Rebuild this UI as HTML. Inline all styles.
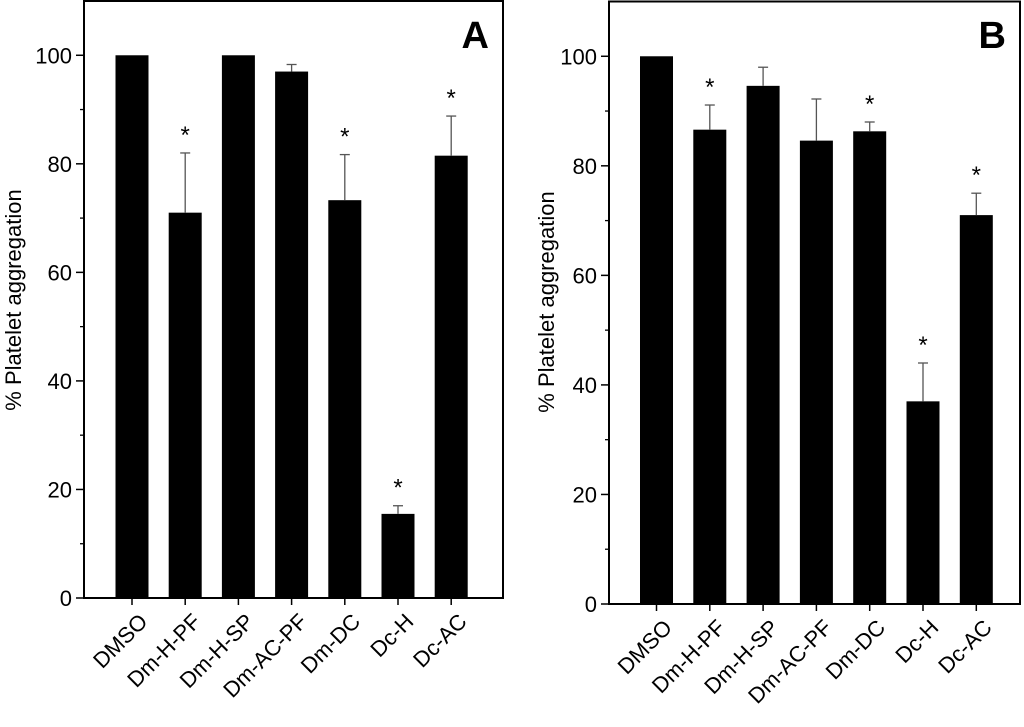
<!DOCTYPE html>
<html><head><meta charset="utf-8"><style>
html,body{margin:0;padding:0;background:#fff;}
svg{display:block;font-family:"Liberation Sans",Arial,sans-serif;}
</style></head><body>
<svg id="chart" width="1024" height="727" viewBox="0 0 1024 727"></svg>
<script>
const categories = ["DMSO","Dm-H-PF","Dm-H-SP","Dm-AC-PF","Dm-DC","Dc-H","Dc-AC"];
const valuesA = [100, 71, 100, 97, 73.3, 15.5, 81.5];
const errorsA = [0, 11, 0, 1.3, 8.4, 1.5, 7.3];
const starsA = [false, true, false, false, true, true, true];
const valuesB = [100, 86.6, 94.6, 84.6, 86.3, 37, 71];
const errorsB = [0, 4.5, 3.4, 7.6, 1.7, 7, 4];
const starsB = [false, true, false, false, true, true, true];
const yTicks = [0, 20, 40, 60, 80, 100];
const yMinor = [10, 30, 50, 70, 90];

const NS = "http://www.w3.org/2000/svg";
const svg = document.getElementById("chart");
function mk(tag, attrs, parent) {
  const e = document.createElementNS(NS, tag);
  for (const k in attrs) e.setAttribute(k, attrs[k]);
  (parent || svg).appendChild(e);
  return e;
}

function panel(cfg) {
  const g = mk("g", {});
  
  
  const y = v => cfg.y0 - (v / 110) * (cfg.y0 - cfg.top);
  const x = i => cfg.c0 + i * cfg.step;
  cfg.values.forEach((v, i) => {
    const b = mk("rect", {x: x(i) - 16.5, y: y(v), width: 33, height: cfg.y0 - y(v), fill: "#000"}, g);
    
    
    const e = cfg.errors[i];
    if (e > 0) {
      const eg = mk("g", {stroke: "#555", "stroke-width": 1.3}, g);
      
      
      mk("line", {x1: x(i), x2: x(i), y1: y(v), y2: y(v + e)}, eg);
      mk("line", {x1: x(i) - 5, x2: x(i) + 5, y1: y(v + e), y2: y(v + e)}, eg);
    }
    if (cfg.stars[i]) {
      const s = mk("text", {x: x(i), y: y(v + e) - 10, "text-anchor": "middle", "font-size": 24}, g);
      s.textContent = "*";
      
      
    }
    mk("line", {x1: x(i), x2: x(i), y1: cfg.y0, y2: cfg.y0 + 7, stroke: "#000", "stroke-width": 1.5}, g);
    const lx = x(i) + 6, ly = cfg.y0 + 14;
    const t = mk("text", {x: lx, y: ly, "text-anchor": "end", "font-size": 22, transform: `rotate(-45 ${lx} ${ly})`, dy: "0.7em"}, g);
    t.textContent = categories[i];
    
    
  });
  const f = mk("rect", {x: cfg.left, y: cfg.top, width: cfg.right - cfg.left, height: cfg.y0 - cfg.top, fill: "none", stroke: "#000", "stroke-width": 2}, g);
  
  
  yTicks.forEach(v => {
    mk("line", {x1: cfg.left - 8, x2: cfg.left, y1: y(v), y2: y(v), stroke: "#000", "stroke-width": 1.5}, g);
    const t = mk("text", {x: cfg.left - 12, y: y(v) + 8, "text-anchor": "end", "font-size": 22}, g);
    t.textContent = v;
    
    
  });
  yMinor.forEach(v => mk("line", {x1: cfg.left - 4, x2: cfg.left, y1: y(v), y2: y(v), stroke: "#000", "stroke-width": 1.3}, g));
  const yl = mk("text", {x: cfg.ylx, y: cfg.yly, "text-anchor": "middle", "font-size": 22, transform: `rotate(-90 ${cfg.ylx} ${cfg.yly})`}, g);
  yl.textContent = "% Platelet aggregation";
  
  
  const L = mk("text", {x: cfg.right - 14, y: 48, "text-anchor": "end", "font-size": 38, "font-weight": "bold"}, g);
  L.textContent = cfg.letter;
  
  
}

panel({letter: "A", left: 84, right: 503, top: 1, y0: 598, c0: 132, step: 53.2,
  values: valuesA, errors: errorsA, stars: starsA, ylx: 21, yly: 300});
panel({letter: "B", left: 609, right: 1020, top: 1.5, y0: 604, c0: 656.5, step: 53.3,
  values: valuesB, errors: errorsB, stars: starsB, ylx: 554, yly: 302});
</script>
</body></html>
